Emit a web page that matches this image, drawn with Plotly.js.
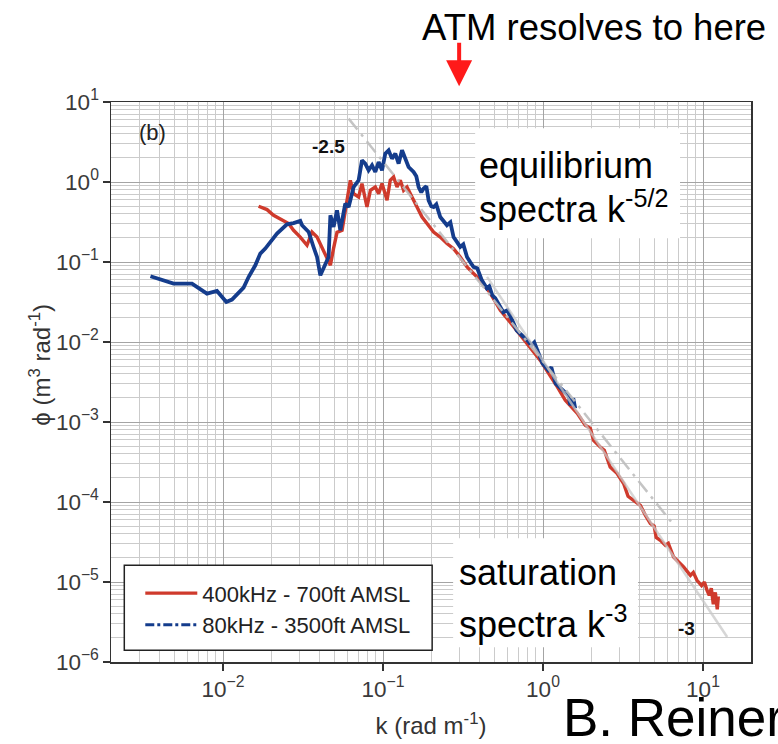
<!DOCTYPE html>
<html>
<head>
<meta charset="utf-8">
<script src="https://cdn.plot.ly/plotly-3.0.1.min.js"></script>
<style>html,body{margin:0;padding:0;background:#fff;}#chart{width:778px;height:744px;}</style>
</head>
<body>
<div id="chart"></div>
<script>
// ---- data (k in rad/m, phi in m^3/rad) ----
const blueK = [0.00352,0.00491,0.0064,0.00704,0.00794,0.00917,0.01049,0.01138,0.01345,0.01445,
  0.01592,0.0171,0.01837,0.02175,0.0251,0.0276,0.0304,0.0312,0.0343,0.0368,
  0.0387,0.0406,0.0426,0.0457,0.0469,0.0491,0.0516,0.0541,0.0581,0.061,
  0.0655,0.0704,0.0739,0.0775,0.0813,0.0854,0.0895,0.0939,0.0986,0.1033,
  0.1084,0.1138,0.1194,0.1252,0.1315,0.1378,0.1445,0.1553,0.1615,0.167,
  0.1735,0.1794,0.1866,0.1928,0.2004,0.207,0.2153,0.228,0.2416,0.251,
  0.2636,0.276,0.2911,0.304,0.3176,0.335,0.3515,0.368,0.3882,0.415,
  0.4455,0.4616,0.482,0.503,0.565,0.598,0.643,0.684,0.798,0.845,
  0.882,0.935,0.994,1.079,1.127,1.199,1.282,1.439,1.482,1.546,
  1.59];
const bluePhi = [0.0663,0.0537,0.0537,0.0479,0.0403,0.0434,0.0316,0.0339,0.0479,0.0649,
  0.0909,0.1274,0.147,0.2265,0.296,0.307,0.326,0.288,0.237,0.154,
  0.1155,0.0682,0.0866,0.1155,0.384,0.274,0.443,0.249,0.537,0.487,
  0.866,1.05,1.866,1.698,1.4,1.618,1.334,1.778,1.4,2.266,
  2.49,1.961,2.266,1.698,2.49,1.961,1.54,1.334,1.178,0.866,
  0.743,0.827,0.883,0.59,0.497,0.487,0.526,0.365,0.313,0.288,
  0.313,0.205,0.176,0.154,0.166,0.1155,0.0991,0.0866,0.0834,0.059,
  0.0469,0.0497,0.0384,0.0352,0.0235,0.0249,0.01866,0.014,0.0105,0.0091,
  0.0099,0.00716,0.00537,0.00443,0.00483,0.00302,0.00264,0.00216,0.00162,0.00198,
  0.00148];

const redK = [0.01669,0.01884,0.0207,0.0234,0.0257,0.0276,0.0304,0.0335,0.036,0.0387,
  0.0426,0.0469,0.0491,0.0516,0.0555,0.0596,0.0625,0.0655,0.0704,0.0739,
  0.0794,0.0834,0.0895,0.0939,0.0986,0.106,0.111,0.1165,0.1223,0.1283,
  0.1345,0.1413,0.1518,0.163,0.1754,0.1884,0.207,0.228,0.251,0.276,
  0.304,0.335,0.368,0.406,0.469,0.541,0.625,0.722,0.833,0.962,
  1.211,1.378,1.638,1.837,1.976,2.07,2.28,2.416,2.63,2.9,
  3.19,3.4,3.68,4.06,4.36,4.69,4.95,5.1,5.41,5.82,
  6.07,6.55,7.56,8.34,8.7,9.17,9.8,10.2,10.6,10.94,
  11.27,11.6,11.94,12.28,12.47];
const redPhi = [0.497,0.452,0.384,0.339,0.302,0.249,0.205,0.162,0.237,0.205,
  0.14,0.0909,0.148,0.235,0.249,0.59,1.05,0.716,0.649,0.955,
  0.487,0.787,0.866,0.716,0.955,0.59,1.05,1.155,0.866,1.05,
  0.787,0.866,0.649,0.487,0.365,0.302,0.237,0.205,0.17,0.147,
  0.1155,0.0866,0.0716,0.059,0.0406,0.0249,0.01758,0.01213,0.00834,0.0059,
  0.00288,0.00187,0.001285,0.00091,0.000834,0.00059,0.000487,0.000443,0.000274,0.000228,
  0.00017,0.000118,0.000105,9.1e-5,6.82e-5,5.37e-5,5.0e-5,3.6e-5,3.32e-5,2.88e-5,
  3.05e-5,2.05e-5,1.54e-5,1.21e-5,1.32e-5,1.05e-5,9.0e-6,1.0e-5,7.87e-6,6.82e-6,
  8.34e-6,5.26e-6,7.43e-6,4.56e-6,6.62e-6];

// reference power-law guide lines (end points)
const slope25K = [0.061, 6.46];
const slope25Phi = [6.2, 5.37e-5];
const slope3K = [0.447, 14.16];
const slope3Phi = [0.0652, 2.05e-6];

const seriesNames = ['400kHz - 700ft AMSL', '80kHz - 3500ft AMSL'];
const xTitle = 'k (rad m<sup>-1</sup>)';
const yTitle = '\u03d5 (m<sup>3</sup> rad<sup>-1</sup>)';
// tick labels shown as powers of ten
const tickAlias = {'1': '10<sup>0</sup>', '10': '10<sup>1</sup>'};

const RED = '#cf3a2c';
const BLUE = '#143c8c';
const FONT = 'Liberation Sans, Arial, sans-serif';

const traces = [
  {x: redK, y: redPhi, mode: 'lines', name: seriesNames[0],
   line: {color: RED, width: 3.4}, showlegend: true},
  {x: blueK, y: bluePhi, mode: 'lines', name: seriesNames[1],
   line: {color: BLUE, width: 3.8}, showlegend: false},
  {x: [null], y: [null], mode: 'lines', name: seriesNames[1],
   line: {color: BLUE, width: 3, dash: 'dashdot'}, showlegend: true},
  {x: slope3K, y: slope3Phi, mode: 'lines', showlegend: false,
   line: {color: 'rgba(200,200,200,0.75)', width: 2.5}},
  {x: slope25K, y: slope25Phi, mode: 'lines', showlegend: false,
   line: {color: 'rgba(190,190,190,0.9)', width: 2.5, dash: '14px,6px,3px,6px'}}
];

function px2x(p){ return (p - 110.7) / 640.3; }
function py2y(p){ return (661.7 - p) / 560; }

const axisCommon = {
  type: 'log', dtick: 1, exponentformat: 'power', labelalias: tickAlias,
  showgrid: true, gridcolor: '#a4a4a4', gridwidth: 1,
  minor: {showgrid: true, gridcolor: '#cbcbcb', gridwidth: 1, dtick: 'D1', ticks: ''},
  ticks: 'outside', ticklen: 7, tickwidth: 1.5, tickcolor: '#333',
  showline: true, linecolor: '#333', linewidth: 1.5, mirror: true,
  tickfont: {family: FONT, size: 18, color: '#3a3a3a'},
  zeroline: false
};

function note(px, py, text, size, extra){
  return Object.assign({xref: 'paper', yref: 'paper', x: px2x(px), y: py2y(py),
    text: text, showarrow: false, yanchor: 'middle', xanchor: 'center',
    font: {family: FONT, size: size, color: '#000'}}, extra || {});
}

const layout = {
  width: 778, height: 744,
  margin: {l: 111, r: 27, t: 102, b: 82},
  paper_bgcolor: '#fff', plot_bgcolor: '#fff',
  font: {family: FONT, color: '#000'},
  showlegend: true,
  legend: {x: px2x(140), y: py2y(609), xanchor: 'left', yanchor: 'middle',
           bgcolor: 'rgba(0,0,0,0)', borderwidth: 0, itemwidth: 52,
           font: {family: FONT, size: 22, color: '#222'}, tracegroupgap: 0},
  xaxis: Object.assign({}, axisCommon, {
    range: [-2.7, 1.3],
    title: {text: xTitle, font: {family: FONT, size: 24, color: '#333'}, standoff: 16}
  }),
  yaxis: Object.assign({}, axisCommon, {
    range: [-6, 1],
    title: {text: ''}
  }),
  shapes: [
    {type: 'rect', xref: 'paper', yref: 'paper', layer: 'above',
     x0: px2x(475), x1: px2x(680), y0: py2y(238), y1: py2y(128),
     fillcolor: '#fff', line: {width: 0}},
    {type: 'rect', xref: 'paper', yref: 'paper', layer: 'above',
     x0: px2x(453), x1: px2x(638), y0: py2y(647), y1: py2y(538),
     fillcolor: '#fff', line: {width: 0}},
    {type: 'rect', xref: 'paper', yref: 'paper', layer: 'above',
     x0: px2x(124), x1: px2x(432), y0: py2y(650), y1: py2y(565),
     fillcolor: '#fff', line: {width: 1.5, color: '#222'}}
  ],
  annotations: [
    note(40, 364, yTitle, 24, {textangle: -90, font: {family: FONT, size: 24, color: '#333'}}),
    note(152.5, 132, '(b)', 22, {font: {family: FONT, size: 22, color: '#222'}}),
    note(328, 146, '<b>-2.5</b>', 19, {font: {family: FONT, size: 19, color: '#111'}}),
    note(686, 628, '<b>-3</b>', 19, {font: {family: FONT, size: 19, color: '#111'}}),
    note(477, 165, 'equilibrium', 36, {xanchor: 'left'}),
    note(477, 207, 'spectra k<sup>-5/2</sup>', 36, {xanchor: 'left'}),
    note(457, 572, 'saturation', 36, {xanchor: 'left'}),
    note(457, 622, 'spectra k<sup>-3</sup>', 36, {xanchor: 'left'}),
    note(420, 27, 'ATM resolves to here', 36.5, {xanchor: 'left'}),
    {xref: 'paper', yref: 'paper', x: px2x(459), y: py2y(86), text: '',
     showarrow: true, ax: 0, ay: -45, arrowcolor: '#ff1a1a', arrowwidth: 4,
     arrowhead: 2, arrowsize: 1.3, standoff: 0},
    note(561, 717, 'B. Reiner', 53, {xanchor: 'left'})
  ]
};

Plotly.newPlot('chart', traces, layout, {staticPlot: true, displayModeBar: false});
</script>
</body>
</html>
